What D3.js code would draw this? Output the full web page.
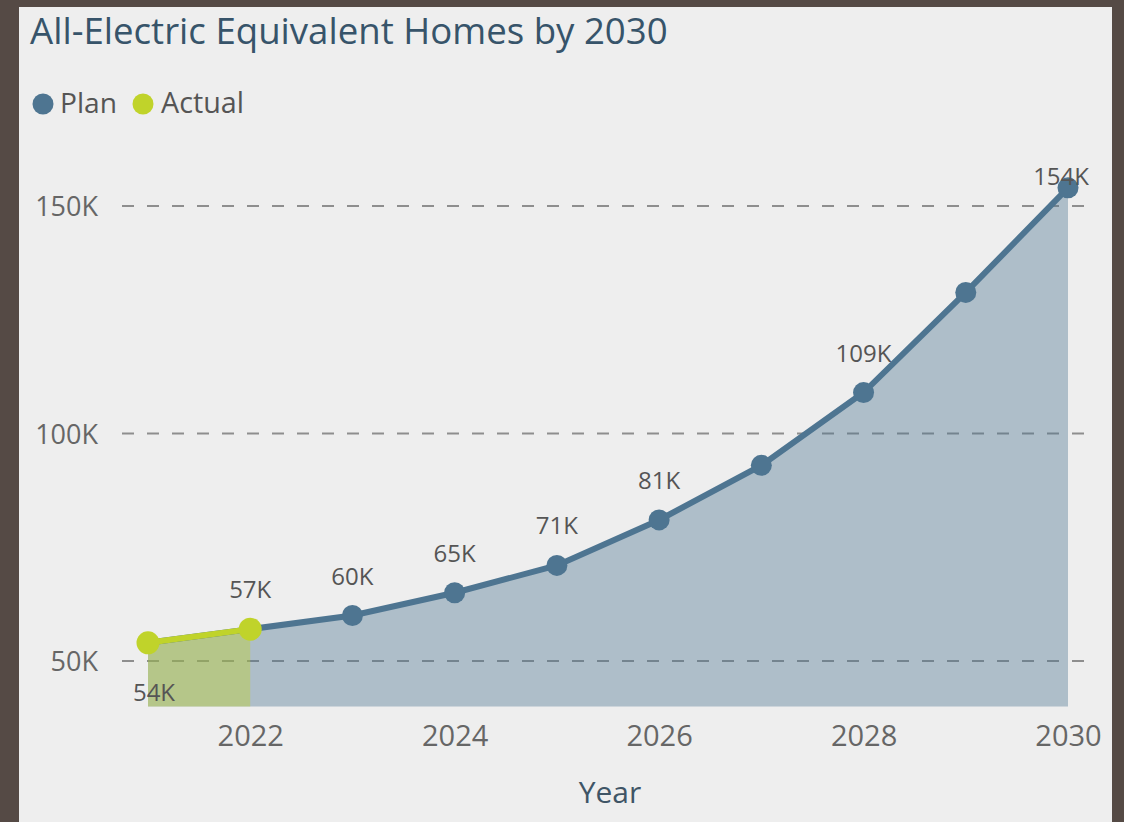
<!DOCTYPE html>
<html><head><meta charset="utf-8">
<script src="https://cdn.jsdelivr.net/npm/d3@7"></script>
<style>
html,body{margin:0;padding:0;background:#554a45;}
svg{display:block;}
text{font-family:"Open Sans","Noto Sans",sans-serif;}
</style></head>
<body>
<svg id="chart" width="1124" height="822"></svg>
<script>
const years = [2021,2022,2023,2024,2025,2026,2027,2028,2029,2030];
const planValues = [54000,57000,60000,65000,71000,81000,93000,109000,131000,154000];
const actualYears = [2021,2022];
const actualValues = [54000,57000];
const yTicks = [50000,100000,150000];
const xTicks = [2022,2024,2026,2028,2030];
const planLabels = {2022:"57K",2023:"60K",2024:"65K",2025:"71K",2026:"81K",2028:"109K",2030:"154K"};
const actualLabels = {2021:"54K"};

const planColor = "#4e7591", actualColor = "#c0d32a";
const svg = d3.select("#chart");
svg.append("rect").attr("x",19).attr("y",7).attr("width",1093).attr("height",815).attr("fill","#eeeeee");

const x = d3.scaleLinear().domain([2021,2030]).range([148,1068]);
const y = d3.scaleLinear().domain([40000,150000]).range([706.5,206]);

function fitText(sel, w){ const n=sel.node(); const l=n.getComputedTextLength(); const fs=parseFloat(sel.attr("font-size")); sel.attr("font-size", fs*w/l); }

// title
const title = svg.append("text").attr("x",30).attr("y",44).attr("font-size",30).attr("fill","#37546a").text("All-Electric Equivalent Homes by 2030");
fitText(title, 638);

// legend
const lg = [{n:"Plan",c:planColor,cx:43,tx:60,w:57},{n:"Actual",c:actualColor,cx:143,tx:161,w:83}];
lg.forEach(d=>{
  svg.append("circle").attr("cx",d.cx).attr("cy",104).attr("r",10.5).attr("fill",d.c);
  const t=svg.append("text").attr("x",d.tx).attr("y",113).attr("font-size",25).attr("fill","#555").text(d.n);
  fitText(t,d.w);
});

// grid
svg.append("g").selectAll("line").data(yTicks).join("line")
  .attr("x1",122).attr("x2",1096).attr("y1",d=>y(d)).attr("y2",d=>y(d))
  .attr("stroke","#8e8e8e").attr("stroke-width",2).attr("stroke-dasharray","12,13");

// y labels
const yAxis = d3.axisLeft(y).tickValues(yTicks).tickFormat(d=>d/1000+"K").tickSize(0).tickPadding(0);
const ga = svg.append("g").attr("transform","translate(98,0)").call(yAxis);
ga.select(".domain").remove();
ga.selectAll("text").attr("font-size",27).attr("fill","#666").attr("font-family","'Open Sans',sans-serif").attr("dy","0.36em");

// x labels
const xAxis = d3.axisBottom(x).tickValues(xTicks).tickFormat(d3.format("d")).tickSize(0).tickPadding(0);
const gx = svg.append("g").attr("transform","translate(0,722)").call(xAxis);
gx.select(".domain").remove();
gx.selectAll("text").attr("font-size",29).attr("fill","#666").attr("font-family","'Open Sans',sans-serif").attr("dy","0.82em");

svg.append("text").attr("x",610).attr("y",803).attr("text-anchor","middle").attr("font-size",30).attr("fill","#3f5566").text("Year");

// areas
const planData = years.map((yr,i)=>({yr,v:planValues[i]}));
const actData = actualYears.map((yr,i)=>({yr,v:actualValues[i]}));
const area = d3.area().x(d=>x(d.yr)).y0(y(40000)).y1(d=>y(d.v));
svg.append("path").datum(planData).attr("d",area).attr("fill",planColor).attr("fill-opacity",0.4);
svg.append("path").datum(actData).attr("d",area).attr("fill",actualColor).attr("fill-opacity",0.4);

// lines
const line = d3.line().x(d=>x(d.yr)).y(d=>y(d.v));
svg.append("path").datum(planData).attr("d",line).attr("fill","none").attr("stroke",planColor).attr("stroke-width",6);
svg.selectAll(".pm").data(planData).join("circle").attr("cx",d=>x(d.yr)).attr("cy",d=>y(d.v)).attr("r",10.5).attr("fill",planColor);
svg.append("path").datum(actData).attr("d",line).attr("fill","none").attr("stroke",actualColor).attr("stroke-width",6);
svg.selectAll(".am").data(actData).join("circle").attr("cx",d=>x(d.yr)).attr("cy",d=>y(d.v)).attr("r",11.5).attr("fill",actualColor);

// data labels
planData.filter(d=>planLabels[d.yr]).forEach(d=>{
  const last = d.yr===2030;
  svg.append("text").attr("x",last? x(d.yr)+21 : x(d.yr)).attr("y",last? y(d.v)-3 : y(d.v)-31)
    .attr("text-anchor",last?"end":"middle").attr("font-size",24).attr("fill","#555").text(planLabels[d.yr]);
});
actData.filter(d=>actualLabels[d.yr]).forEach(d=>{
  svg.append("text").attr("x",x(d.yr)+6).attr("y",y(d.v)+58).attr("text-anchor","middle").attr("font-size",24).attr("fill","#555").text(actualLabels[d.yr]);
});
</script>
</body></html>
